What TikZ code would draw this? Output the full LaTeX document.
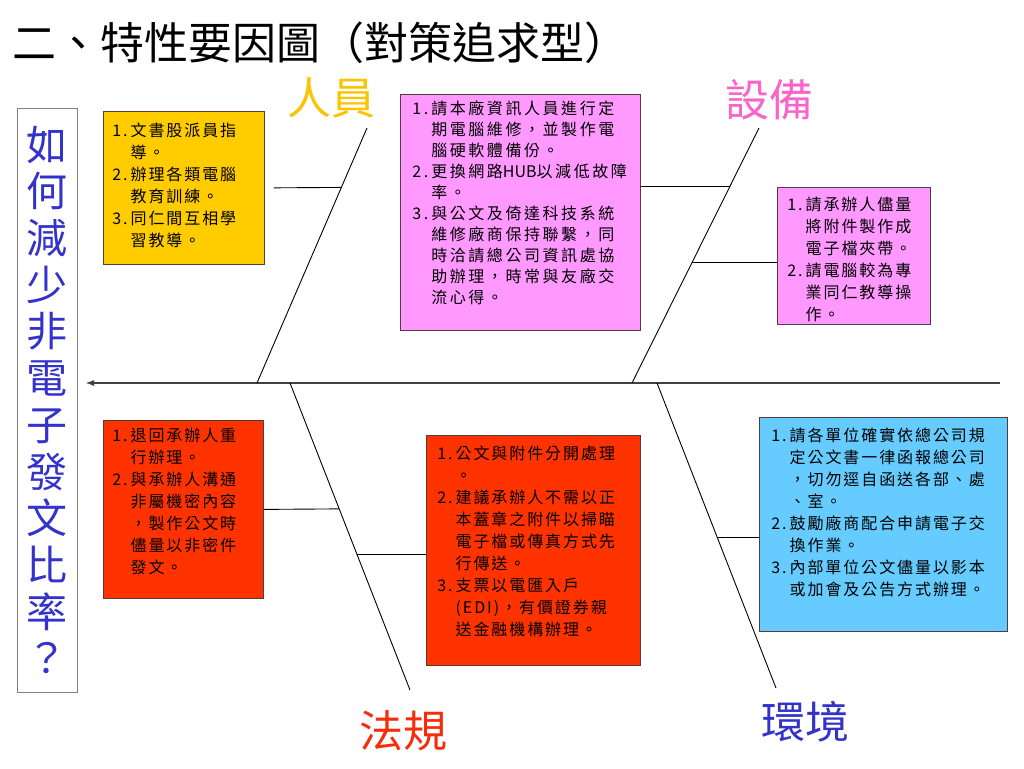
\documentclass[tikz,border=0pt]{standalone}
\usepackage{fontspec}
\usepackage{tikz}
\usetikzlibrary{%
	calc,%
	arrows
}
\newfontfamily\cjk{Noto Sans CJK TC}
\newfontfamily\cjknote[LetterSpace=12]{Noto Sans CJK TC}
\newfontfamily\cjkwide[LetterSpace=16]{Noto Sans CJK TC}
\definecolor{renyuan}{RGB}{250,196,0}
\definecolor{shebei}{RGB}{250,100,200}
\definecolor{fagui}{RGB}{245,45,10}
\definecolor{huanjing}{RGB}{51,51,204}
\definecolor{yellowbox}{RGB}{255,204,0}
\definecolor{pinkbox}{RGB}{255,153,255}
\definecolor{redbox}{RGB}{255,51,0}
\definecolor{bluebox}{RGB}{102,204,255}
\definecolor{boxline}{RGB}{85,60,60}
% box text: width, height, top pad, left pad, rows
\newcommand\notetext[5]{%
	\begin{minipage}[c][#2][t]{#1}%
		\vspace*{#3}\hspace*{#4}%
		\begin{tabular}[t]{@{}l@{\hspace{3pt}}l@{}}#5\end{tabular}%
	\end{minipage}}
\begin{document}
\begin{tikzpicture}[x=1pt,y=-1pt,
		note/.style={draw=boxline, line width=0.8pt, anchor=north west, inner sep=0pt,
			font=\cjknote\fontsize{16}{22}\selectfont},
		bone/.style={draw=black, line width=0.9pt},
		spine/.style={draw=black!75, line width=1.8pt, -latex},
		cause/.style={font=\cjk\fontsize{44}{44}\selectfont, inner sep=0pt}]
	\useasboundingbox (0,0) rectangle (1024,768);
	
	\node[anchor=west, inner sep=0pt, font=\cjk\fontsize{44}{44}\selectfont] (title) at (12,43) {二、特性要因圖（對策追求型）};
	
	\node[draw=gray, line width=0.8pt, minimum width=60, minimum height=584, inner sep=0pt, align=center,
		text=huanjing, font=\cjk\fontsize{41}{46.7}\selectfont] (goal) at (47,400)
		{如\\何\\減\\少\\非\\電\\子\\發\\文\\比\\率\\？};
	
	\coordinate (tail) at (1000,383);
	\coordinate (head) at (86,383);
	\draw[spine] (tail) -- (head);
	
	\coordinate (rytop) at (367,128);
	\coordinate (rybot) at (257,383);
	\coordinate (sbtop) at (759,128);
	\coordinate (sbbot) at (632,383);
	\coordinate (fgtop) at (290,383);
	\coordinate (fgbot) at (410,690);
	\coordinate (hjtop) at (657,383);
	\coordinate (hjbot) at (776,688);
	\draw[bone] (rytop) -- (rybot) coordinate[pos=0.233] (ryA);
	\draw[bone] (sbtop) -- (sbbot) coordinate[pos=0.231] (sbA) coordinate[pos=0.529] (sbB);
	\draw[bone] (fgtop) -- (fgbot) coordinate[pos=0.41] (fgA) coordinate[pos=0.557] (fgB);
	\draw[bone] (hjtop) -- (hjbot) coordinate[pos=0.505] (hjA);
	
	\node[cause, text=renyuan] (ry) at (331,98) {人員};
	\node[cause, text=shebei] (sb) at (769,100) {設備};
	\node[cause, text=fagui] (fg) at (403,731) {法規};
	\node[cause, text=huanjing] (hj) at (805,722) {環境};
	
	\node[note, fill=yellowbox] (train) at (103,111) {\notetext{161pt}{153pt}{10pt}{9pt}{%
		1. & 文書股派員指 \\
		   & 導。 \\
		2. & 辦理各類電腦 \\
		   & 教育訓練。 \\
		3. & 同仁間互相學 \\
		   & 習教導。}};
	
	\node[note, fill=pinkbox, font=\cjkwide\fontsize{16}{21}\selectfont] (repair) at (400,94) {\notetext{240pt}{236pt}{5pt}{12pt}{%
		1. & 請本廠資訊人員進行定 \\
		   & 期電腦維修，並製作電 \\
		   & 腦硬軟體備份。 \\
		2. & 更換網路{\cjk HUB}以減低故障 \\
		   & 率。 \\
		3. & 與公文及倚達科技系統 \\
		   & 維修廠商保持聯繫，同 \\
		   & 時洽請總公司資訊處協 \\
		   & 助辦理，時常與友廠交 \\
		   & 流心得。}};
	
	\node[note, fill=pinkbox] (attach) at (777,187) {\notetext{153pt}{137pt}{8pt}{10pt}{%
		1. & 請承辦人儘量 \\
		   & 將附件製作成 \\
		   & 電子檔夾帶。 \\
		2. & 請電腦較為專 \\
		   & 業同仁教導操 \\
		   & 作。}};
	
	\node[note, fill=redbox] (returns) at (103,420) {\notetext{160pt}{178pt}{6pt}{9pt}{%
		1. & 退回承辦人重 \\
		   & 行辦理。 \\
		2. & 與承辦人溝通 \\
		   & 非屬機密內容 \\
		   & ，製作公文時 \\
		   & 儘量以非密件 \\
		   & 發文。}};
	
	\node[note, fill=redbox] (separate) at (426,435) {\notetext{214pt}{230pt}{9pt}{11pt}{%
		1. & 公文與附件分開處理 \\
		   & 。 \\
		2. & 建議承辦人不需以正 \\
		   & 本蓋章之附件以掃瞄 \\
		   & 電子檔或傳真方式先 \\
		   & 行傳送。 \\
		3. & 支票以電匯入戶 \\
		   & (EDI)，有價證券親 \\
		   & 送金融機構辦理。}};
	
	\node[note, fill=bluebox] (units) at (759,417) {\notetext{248pt}{214pt}{9pt}{12pt}{%
		1. & 請各單位確實依總公司規 \\
		   & 定公文書一律函報總公司 \\
		   & ，切勿逕自函送各部、處 \\
		   & 、室。 \\
		2. & 鼓勵廠商配合申請電子交 \\
		   & 換作業。 \\
		3. & 內部單位公文儘量以影本 \\
		   & 或加會及公告方式辦理。}};
	
	\draw[bone, shorten <=9pt] (train.east) -- (ryA);
	\draw[bone] (sbA) -- (sbA -| repair.east);
	\draw[bone] (sbB) -- (sbB -| attach.west);
	\draw[bone] (returns.east) -- (fgA);
	\draw[bone] (fgB) -- (fgB -| separate.west);
	\draw[bone] (hjA) -- (hjA -| units.west);
\end{tikzpicture}
\end{document}
